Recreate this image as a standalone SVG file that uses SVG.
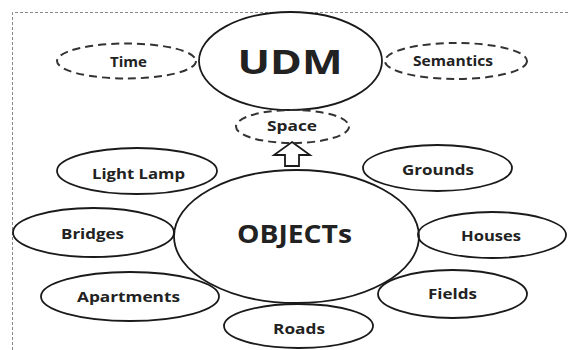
<svg xmlns="http://www.w3.org/2000/svg" width="568" height="350" viewBox="0 0 568 350">
<style>
.n{fill:none;stroke:#1a1a1a;stroke-width:1.8}
.d{fill:none;stroke:#333;stroke-width:2;stroke-dasharray:8 5}
.t{font-family:"Open Sans","DejaVu Sans",sans-serif;font-weight:bold;font-size:14px;fill:#222;text-anchor:middle}
.frame{stroke:#888;stroke-width:1;stroke-dasharray:3 2;fill:none}
</style>
<rect width="568" height="350" fill="#fff"/>
<path class="frame" d="M12.5,350 V12.5 H568"/>
<g id="connectors">
<path d="M292,142 L310,155 L299,155 L299,166 L285,166 L285,155 L274,155 Z" fill="#fff" stroke="#1a1a1a" stroke-width="1.8" stroke-linejoin="miter"/>
</g>
<g id="time"><ellipse class="d" cx="126.5" cy="61" rx="69.5" ry="17.5"/><text class="t" x="128.5" y="67" textLength="37" lengthAdjust="spacingAndGlyphs">Time</text></g>
<g id="semantics"><ellipse class="d" cx="456" cy="61" rx="71" ry="18"/><text class="t" x="453" y="66" textLength="80" lengthAdjust="spacingAndGlyphs">Semantics</text></g>
<g id="udm"><ellipse class="n" cx="290.5" cy="61" rx="91.5" ry="49"/><text class="t" style="font-size:34px" x="290" y="74" textLength="105" lengthAdjust="spacingAndGlyphs">UDM</text></g>
<g id="space"><ellipse class="d" cx="292.5" cy="126.5" rx="56.5" ry="16.5"/><text class="t" x="292" y="131" textLength="50" lengthAdjust="spacingAndGlyphs">Space</text></g>
<g id="lightlamp"><ellipse class="n" cx="137" cy="171" rx="80" ry="23"/><text class="t" x="138.5" y="179" textLength="93" lengthAdjust="spacingAndGlyphs">Light Lamp</text></g>
<g id="grounds"><ellipse class="n" cx="437.5" cy="168" rx="74.5" ry="23"/><text class="t" x="438" y="175" textLength="72" lengthAdjust="spacingAndGlyphs">Grounds</text></g>
<g id="bridges"><ellipse class="n" cx="93.5" cy="232.5" rx="80.5" ry="24.5"/><text class="t" x="92.5" y="239" textLength="63" lengthAdjust="spacingAndGlyphs">Bridges</text></g>
<g id="objects"><ellipse class="n" cx="296.5" cy="236.5" rx="122.5" ry="66.5"/><text class="t" style="font-size:25px" x="294.5" y="243" textLength="115" lengthAdjust="spacingAndGlyphs">OBJECTs</text></g>
<g id="houses"><ellipse class="n" cx="492" cy="235" rx="74" ry="23"/><text class="t" x="491" y="241" textLength="60" lengthAdjust="spacingAndGlyphs">Houses</text></g>
<g id="apartments"><ellipse class="n" cx="130" cy="296.5" rx="89" ry="24.5"/><text class="t" x="128.5" y="302" textLength="103" lengthAdjust="spacingAndGlyphs">Apartments</text></g>
<g id="fields"><ellipse class="n" cx="452.5" cy="294" rx="74.5" ry="24"/><text class="t" x="452.5" y="299" textLength="49" lengthAdjust="spacingAndGlyphs">Fields</text></g>
<g id="roads"><ellipse class="n" cx="298.5" cy="326" rx="74.5" ry="22"/><text class="t" x="299" y="334" textLength="52" lengthAdjust="spacingAndGlyphs">Roads</text></g>
</svg>
